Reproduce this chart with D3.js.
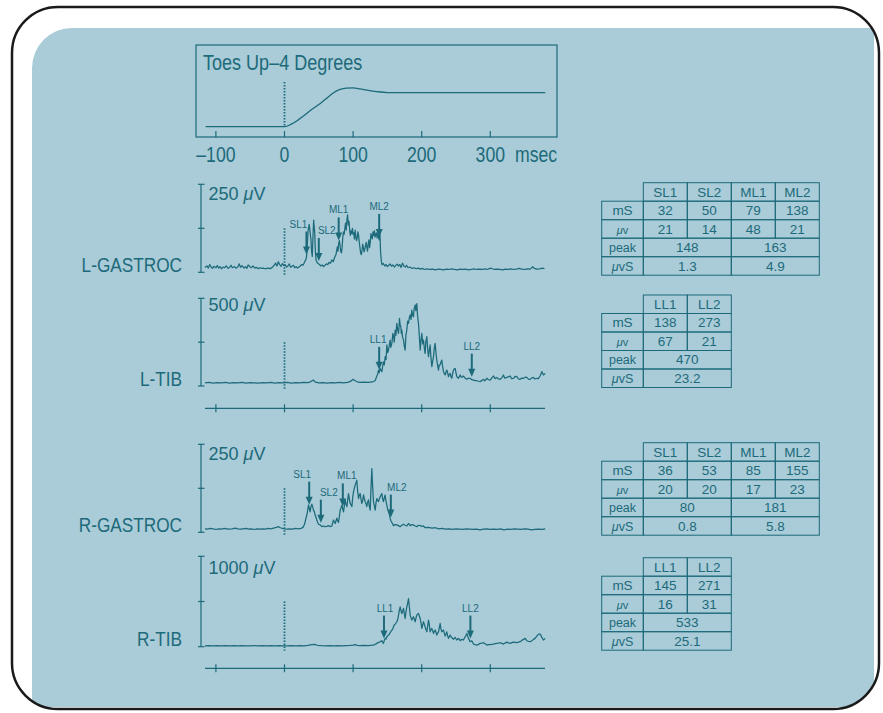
<!DOCTYPE html>
<html>
<head>
<meta charset="utf-8">
<script src="https://cdn.jsdelivr.net/npm/d3@7"></script>
<style>
  body { margin: 0; background: #fff; }
</style>
</head>
<body>
<div id="chart"></div>
<script>
// ---- data ----
var timeTicks = [-100, 0, 100, 200, 300];

// ankle angle, degrees (toes up)
var angleTime = [-115, 0, 10, 20, 30, 40, 50, 60, 70, 80, 90, 100, 110, 120, 135, 150, 200, 300, 380];
var angleDeg  = [0, 0, 0.3, 0.8, 1.4, 2.05, 2.6, 3.25, 3.9, 4.35, 4.55, 4.56, 4.45, 4.3, 4.12, 4.02, 4.0, 4.0, 4.0];

// EMG traces, [msec, microvolts]
var lGastroc = [[-116,14],[-113,18],[-111,12],[-109,22],[-107,15],[-105,11],[-103,17],[-100,13],[-98,19],[-96,12],
  [-94,16],[-92,10],[-89,15],[-87,13],[-85,18],[-82,11],[-80,14],[-78,20],[-76,13],[-73,16],[-71,12],[-68,15],
  [-66,24],[-64,14],[-62,19],[-59,12],[-57,16],[-55,11],[-53,21],[-50,15],[-48,13],[-46,18],[-43,12],[-41,14],
  [-38,10],[-36,13],[-33,11],[-31,12],[-28,10],[-26,11],[-23,12],[-21,10],[-18,14],[-15,20],[-13,26],[-11,18],
  [-9,30],[-7,22],[-5,17],[-3,25],[-1,19],[1,21],[3,15],[5,18],[7,24],[9,14],[11,17],[13,20],[15,13],[17,16],
  [19,12],[21,15],[23,18],[25,22],[27,20],[29,28],[31,36],[32,42],[33,70],[34.5,120],[36,136],[37.5,110],
  [38.5,95],[39.5,60],[40.5,45],[41.5,100],[42.5,148],[44,115],[45,60],[46,35],[47.5,28],[49,25],[51,22],[53,18],
  [55,21],[57,16],[59,20],[61,24],[63,22],[65,28],[67,26],[69,35],[71,30],[73,42],[75,50],[77,72],[78,60],[79,82],
  [80,90],[81,75],[82,60],[83,55],[84,72],[85,100],[86,115],[87,108],[88,125],[89,140],[90,120],[91,150],[92,163],
  [93,135],[94,145],[95,120],[96,105],[97,118],[98,110],[99,125],[100,108],[101,112],[102,95],[103,120],[104,100],
  [105,90],[106,98],[107,115],[108,105],[109,85],[110,70],[111,55],[112,50],[113,62],[114,80],[115,70],[116,58],
  [117,65],[118,75],[119,85],[120,72],[121,60],[122,80],[123,92],[124,70],[125,85],[126,110],[127,100],[128,95],
  [129,115],[130,105],[131,118],[132,100],[133,108],[134,112],[135,98],[136,110],[137,100],[138,92],[139,118],
  [140,60],[141,35],[142,22],[144,25],[146,18],[148,22],[150,16],[152,20],[154,24],[156,17],[158,21],[160,15],
  [162,19],[164,23],[166,18],[168,22],[170,14],[172,26],[174,18],[176,15],[178,20],[180,13],[183,15],[186,11],
  [189,13],[192,10],[195,12],[198,9],[201,11],[204,8],[208,10],[212,8],[216,9],[220,7],[224,9],[228,8],[232,7],
  [236,9],[240,8],[244,10],[248,8],[252,7],[256,9],[260,8],[264,9],[268,7],[272,8],[276,10],[280,8],[284,9],
  [288,8],[292,10],[296,8],[300,12],[303,10],[306,8],[310,9],[314,8],[318,7],[322,9],[326,8],[330,10],[334,8],
  [338,9],[342,11],[346,9],[350,8],[354,10],[358,9],[362,16],[364,11],[368,9],[372,10],[376,12],[379,10]];

var lTib = [[-116,18],[-110,20],[-104,17],[-98,19],[-92,18],[-86,20],[-80,17],[-74,19],[-68,18],[-62,20],[-56,17],
  [-50,19],[-44,18],[-38,17],[-32,19],[-26,18],[-20,20],[-14,17],[-8,19],[-2,18],[4,20],[10,17],[16,19],[22,18],
  [28,20],[34,19],[38,24],[42,34],[45,22],[50,18],[56,19],[62,17],[68,19],[74,18],[80,20],[86,18],[92,21],[96,26],
  [100,38],[103,30],[106,24],[110,21],[116,22],[122,20],[128,23],[132,30],[134,50],[136,70],[137,91],[138,75],
  [139.5,100],[141,88],[142,82],[143,110],[144.3,138],[145.5,120],[146.7,167],[148,150],[149.2,234],[150.5,190],
  [151.6,205],[153,240],[154,262],[155,220],[156.5,243],[158,300],[159,281],[160,250],[161.3,319],[162.5,290],
  [163.7,357],[165,320],[166.2,300],[167,340],[167.6,386],[168.5,350],[169.6,338],[170.3,300],[171,319],[172,280],
  [173.5,262],[174.5,230],[175.9,205],[177,290],[178.3,319],[179.5,370],[180.8,357],[182,390],[183.2,405],
  [184.5,380],[185.6,433],[187,400],[188,395],[189,440],[190.5,462],[191.5,430],[192.9,470],[194,400],[195.3,357],
  [196.5,290],[197.8,205],[199,260],[200.2,300],[201.5,240],[202.6,262],[204,210],[205,186],[206,250],[207.5,281],
  [208.5,220],[209.9,167],[211,200],[212.3,234],[213.5,160],[214.8,110],[216,140],[217.2,167],[218.5,220],
  [219.6,243],[221,180],[222,148],[223.5,110],[224.5,91],[225.5,120],[226.9,120],[228,135],[229.3,148],[230.5,110],
  [231.8,82],[233,70],[234.2,63],[235.5,80],[236.6,91],[238,72],[239,53],[240,65],[241.5,72],[242.5,55],[243.9,44],
  [245,70],[246.4,91],[247.5,98],[248.8,100],[250,75],[251.2,53],[252.5,48],[253.6,44],[255,55],[256.1,63],
  [257.5,52],[258.5,49],[260,55],[260.9,57],[263,46],[265.8,38],[268,44],[270.6,44],[273,36],[275.5,34],[278,31],
  [280.4,30],[283,27],[285.2,25],[288,32],[290.1,38],[292,30],[295,44],[297,36],[299.8,34],[302,45],[304.7,57],
  [307,42],[309.5,49],[312,40],[314.4,38],[317,48],[319.2,63],[321,45],[324.1,49],[326,52],[329,57],[331,42],
  [333.8,44],[336,55],[338.7,53],[341,40],[343.5,38],[346,45],[348.4,44],[351,50],[353.2,49],[356,38],[358.1,38],
  [360,45],[362.9,49],[365,40],[367.8,44],[370,42],[372.7,57],[375.1,82],[377.5,63],[380,72]];

var rGastroc = [[-116,10],[-112,9],[-108,11],[-104,10],[-100,8],[-96,10],[-92,9],[-88,11],[-84,10],[-80,9],[-76,10],
  [-72,12],[-68,10],[-64,9],[-60,10],[-56,11],[-52,9],[-48,10],[-44,8],[-40,10],[-36,9],[-32,10],[-28,9],[-24,11],
  [-20,10],[-16,12],[-12,14],[-9,16],[-6,13],[-3,11],[0,10],[4,9],[8,10],[12,9],[16,11],[20,10],[24,11],[27,14],
  [29,22],[30.1,30],[31.5,42],[32.6,49],[34,65],[35,78],[36,70],[37.4,58],[38.5,72],[39.9,80],[41,72],[42.3,63],
  [43.5,58],[44.7,49],[46,42],[47.1,35],[48.5,28],[49.6,23],[52,21],[54.4,16],[56.9,18],[59,16],[61.7,17],[64,19],
  [66.6,16],[69,18],[71.4,35],[72.5,30],[73.9,25],[75,32],[76.3,40],[77.5,33],[78.7,28],[80,45],[81.2,63],
  [82.5,70],[83.6,77],[85,65],[86,58],[87.2,75],[88.4,92],[89.5,80],[90.9,73],[92,90],[93.3,110],[94.5,95],
  [95.7,82],[97,78],[98.2,73],[99.5,100],[100.6,115],[101.8,125],[103,134],[104.2,140],[105.4,148],[106.5,120],
  [107.9,96],[109,105],[110.3,110],[111.5,95],[112.7,82],[114,90],[115.2,106],[116.5,95],[117.6,87],[119,80],
  [120,73],[121,85],[122.4,92],[123.5,75],[124.9,63],[126,120],[127.3,181],[128.5,130],[129.7,87],[131,75],
  [132.2,63],[133.5,85],[134.6,96],[136,90],[137,87],[138.2,95],[139.5,101],[140.7,106],[141.9,110],[143,95],
  [144.3,87],[145.5,98],[146.7,106],[148,88],[149.2,77],[150.4,65],[151.6,58],[153,50],[154,40],[155.2,32],
  [156.5,28],[158.9,19],[161,22],[163.7,21],[166,19],[168.6,16],[171,20],[173.4,23],[175.8,20],[178.3,18],
  [180.7,25],[183.2,19],[185.6,22],[188,21],[190.5,18],[192.9,16],[195.3,20],[197.8,19],[200.2,17],[202.6,18],
  [205,13],[210,14],[215,12],[220,13],[225,10],[230,11],[235,9],[240,10],[245,8],[250,10],[255,9],[260,8],[265,10],
  [270,9],[275,8],[280,9],[285,7],[290,9],[295,10],[300,8],[305,9],[310,8],[315,10],[320,7],[325,9],[330,8],
  [335,10],[340,9],[345,8],[350,10],[355,9],[360,7],[365,8],[370,9],[375,8],[380,10]];

var rTib = [[-116,10],[-110,12],[-104,9],[-98,11],[-92,10],[-86,12],[-80,9],[-74,11],[-68,10],[-62,12],[-56,10],
  [-50,9],[-44,11],[-38,10],[-32,12],[-26,9],[-20,11],[-14,10],[-8,12],[-2,10],[4,9],[10,11],[16,10],[22,12],
  [28,10],[34,14],[40,22],[44,26],[48,16],[54,11],[60,10],[66,12],[72,10],[78,11],[84,10],[90,12],[96,14],[100,18],
  [103,22],[106,15],[110,12],[116,14],[122,13],[128,18],[132,24],[134.6,37],[137,48],[139.5,55],[141,62],[142,66],
  [143,48],[144.3,37],[145.5,70],[146.7,92],[148,85],[149.2,110],[150.4,120],[151.6,129],[153,140],[154,154],
  [155.2,170],[156.5,184],[157.7,195],[158.9,220],[160,240],[161.3,250],[162.5,262],[163.7,276],[165,300],
  [166.2,349],[167.4,400],[168.6,441],[169.8,400],[171,367],[172.2,390],[173.5,423],[174.7,360],[175.9,312],
  [177,380],[178.3,441],[179.5,480],[180.8,533],[182,440],[183.2,349],[184.4,320],[185.6,294],[186.8,315],
  [188,331],[189.3,300],[190.5,276],[191.7,320],[192.9,349],[194,360],[195.3,367],[196.5,340],[197.8,312],
  [199,260],[200.2,202],[201.4,240],[202.6,276],[203.8,250],[205,220],[206.2,190],[207.5,165],[208.7,230],
  [209.9,294],[211,250],[212.3,165],[213.5,190],[214.8,202],[216,175],[217.2,147],[218.4,170],[219.6,184],
  [220.8,160],[222,129],[223.2,150],[224.5,165],[225.7,210],[226.9,257],[228,200],[229.3,165],[230.5,175],
  [231.8,184],[233,150],[234.2,118],[235.4,140],[236.6,165],[237.8,120],[239,92],[240.2,110],[241.5,129],
  [242.7,110],[243.9,103],[245.1,90],[246.4,81],[247.6,95],[248.8,103],[250,88],[251.2,74],[252.4,85],[253.6,92],
  [255,80],[256.1,66],[257.3,75],[258.5,81],[259.7,78],[260.9,74],[262,90],[263.4,110],[264.6,125],[265.8,147],
  [267,120],[268.2,92],[269.4,75],[270.6,55],[271.8,60],[273,66],[275.5,29],[278,22],[280.4,18],[283,25],
  [285.2,37],[288,40],[290.1,44],[293,30],[295,18],[297,22],[299.8,22],[302,26],[304.7,29],[307,33],[309.5,37],
  [312,40],[314.4,44],[317,36],[319.2,29],[321.5,40],[324.1,51],[326.5,42],[329,37],[331.5,45],[333.8,51],
  [336,48],[338.7,44],[341,50],[343.5,55],[346,70],[348.4,81],[351,92],[353.2,66],[355.5,60],[358.1,55],
  [360.5,65],[362.9,81],[365.3,92],[367.8,118],[370.2,140],[372.7,140],[375.1,103],[377.5,74],[380,92]];

// response table values
var gastrocMarks = ["SL1", "SL2", "ML1", "ML2"];
var tibMarks = ["LL1", "LL2"];
var lGastrocLatency = [32, 50, 79, 138];
var lGastrocAmp = [21, 14, 48, 21];
var lGastrocPeak = [148, 163];
var lGastrocArea = [1.3, 4.9];
var lTibLatency = [138, 273];
var lTibAmp = [67, 21];
var lTibPeak = [470];
var lTibArea = [23.2];
var rGastrocLatency = [36, 53, 85, 155];
var rGastrocAmp = [20, 20, 17, 23];
var rGastrocPeak = [80, 181];
var rGastrocArea = [0.8, 5.8];
var rTibLatency = [145, 271];
var rTibAmp = [16, 31];
var rTibPeak = [533];
var rTibArea = [25.1];

// ---- drawing ----
var W = 883, H = 713;
var ink = "#1d6a7a";
var plain = "'Liberation Sans',Arial,Helvetica,sans-serif";
var squeeze = 0.82;   // condensed lettering of the slide

var svg = d3.select("#chart").append("svg")
  .attr("width", W)
  .attr("height", H);

// slide background inside the rounded frame
svg.append("defs").append("clipPath").attr("id", "frame")
  .append("rect")
  .attr("x", 12).attr("y", 7).attr("width", 867).attr("height", 702).attr("rx", 46);

svg.append("path")
  .attr("clip-path", "url(#frame)")
  .attr("d", "M32,68 A40,40 0 0 1 72,28 L874,28 L874,707 L32,707 Z")
  .attr("fill", "#a9ccd8");

svg.append("rect")
  .attr("x", 12).attr("y", 7).attr("width", 867).attr("height", 702).attr("rx", 46)
  .attr("fill", "none")
  .attr("stroke", "#1a1a1a")
  .attr("stroke-width", 2.5);

// condensed text helper
function narrowText(g, tx, ty, size, anchor, str) {
  return g.append("text")
    .attr("transform", `translate(${tx},${ty}) scale(${squeeze},1)`)
    .attr("text-anchor", anchor)
    .attr("font-family", plain).attr("font-size", size).attr("fill", ink)
    .text(str);
}

// shared time scale
var x = d3.scaleLinear().domain([-100, 300]).range([215.9, 490.3]);

// ---- top panel: ankle rotation ----
var anglePanel = svg.append("g");
anglePanel.append("rect")
  .attr("x", 196).attr("y", 45).attr("width", 361).attr("height", 92)
  .attr("fill", "none").attr("stroke", ink).attr("stroke-width", 1.2);

narrowText(anglePanel, 203, 70, 22, "start", "Toes Up\u20134 Degrees");

var ya = d3.scaleLinear().domain([0, 4]).range([126.7, 92.7]);
var angleLine = d3.line()
  .x((d, i) => x(angleTime[i]))
  .y(d => ya(d))
  .curve(d3.curveMonotoneX);

anglePanel.append("path")
  .datum(angleDeg)
  .attr("d", angleLine)
  .attr("fill", "none").attr("stroke", ink).attr("stroke-width", 1.3);

anglePanel.append("line")
  .attr("x1", x(0)).attr("x2", x(0)).attr("y1", 82).attr("y2", 127)
  .attr("stroke", ink).attr("stroke-width", 1.8).attr("stroke-dasharray", "1.5,1.5");

anglePanel.selectAll(".tick")
  .data(timeTicks)
  .enter().append("line")
  .attr("x1", d => x(d)).attr("x2", d => x(d))
  .attr("y1", 131).attr("y2", 137.5)
  .attr("stroke", ink).attr("stroke-width", 1.2);

timeTicks.forEach(d => {
  narrowText(anglePanel, x(d), 161.5, 21.5, "middle", d < 0 ? "\u2013" + Math.abs(d) : String(d));
});
narrowText(anglePanel, 515, 161.5, 21.5, "start", "msec");

// ---- EMG panels ----
var panels = [
  { name: "L-GASTROC", trace: lGastroc, full: 250, y0: 272.3, yTop: 184.3, unitY: 200.3, tableY: 182.7,
    marks: gastrocMarks, latency: lGastrocLatency, amp: lGastrocAmp, peak: lGastrocPeak, area: lGastrocArea,
    labelDx: [-8, 8, 0, 0], axisY: null },
  { name: "L-TIB", trace: lTib, full: 500, y0: 386, yTop: 298.3, unitY: 311, tableY: 295,
    marks: tibMarks, latency: lTibLatency, amp: lTibAmp, peak: lTibPeak, area: lTibArea,
    labelDx: [-1, 0], axisY: 408.3 },
  { name: "R-GASTROC", trace: rGastroc, full: 250, y0: 532.3, yTop: 444.3, unitY: 460, tableY: 442.7,
    marks: gastrocMarks, latency: rGastrocLatency, amp: rGastrocAmp, peak: rGastrocPeak, area: rGastrocArea,
    labelDx: [-7, 8, 4, 6], axisY: null },
  { name: "R-TIB", trace: rTib, full: 1000, y0: 646.7, yTop: 556.3, unitY: 574, tableY: 557.7,
    marks: tibMarks, latency: rTibLatency, amp: rTibAmp, peak: rTibPeak, area: rTibArea,
    labelDx: [1, 0], axisY: 668.3 }
];

// value of a trace at time t (linear between samples)
function valueAt(trace, t) {
  var i = d3.bisector(d => d[0]).left(trace, t);
  if (i <= 0) return trace[0][1];
  if (i >= trace.length) return trace[trace.length - 1][1];
  var a = trace[i - 1], b = trace[i];
  return a[1] + (b[1] - a[1]) * (t - a[0]) / (b[0] - a[0]);
}

function drawTable(g, p) {
  var x0 = 601.7, lw = 41.6, cw = 44, rh = 18.5, y0 = p.tableY;
  var n = p.marks.length;

  function cell(cx, cy, w, label, opts) {
    g.append("rect")
      .attr("x", cx).attr("y", cy).attr("width", w).attr("height", rh)
      .attr("fill", "none").attr("stroke", ink).attr("stroke-width", 1);
    var t = g.append("text")
      .attr("x", cx + w / 2).attr("y", cy + rh / 2 + 4.6)
      .attr("text-anchor", "middle")
      .attr("font-family", plain).attr("font-size", (opts && opts.size) || 13.5)
      .attr("fill", ink);
    if (opts && opts.mu) {
      t.append("tspan").attr("font-style", "italic").text("\u03bc");
      t.append("tspan").text(label);
    } else {
      t.text(label);
    }
  }

  p.marks.forEach((m, j) => cell(x0 + lw + j * cw, y0, cw, m));

  var rows = [
    { label: "mS", vals: p.latency, fmt: d => d },
    { label: "v", mu: true, size: 11, vals: p.amp, fmt: d => d },
    { label: "peak", size: 12.5, vals: p.peak, fmt: d => d },
    { label: "vS", mu: true, size: 12.5, vals: p.area, fmt: d => d.toFixed(1) }
  ];
  rows.forEach((r, i) => {
    var cy = y0 + (i + 1) * rh;
    cell(x0, cy, lw, r.label, { mu: r.mu, size: r.size });
    var span = n / r.vals.length;
    r.vals.forEach((v, k) => cell(x0 + lw + k * span * cw, cy, span * cw, r.fmt(v)));
  });
}

panels.forEach(p => {
  var g = svg.append("g");
  var y = d3.scaleLinear().domain([0, p.full]).range([p.y0, p.yTop]);

  // muscle name
  narrowText(g, 182, p.y0 - 0.5, 21, "end", p.name);

  // amplitude bracket
  g.append("line")
    .attr("x1", 201).attr("x2", 201).attr("y1", y(p.full)).attr("y2", y(0))
    .attr("stroke", ink).attr("stroke-width", 1.2);
  g.selectAll(".yt")
    .data([0, p.full / 2, p.full])
    .enter().append("line")
    .attr("x1", 198).attr("x2", 204.5)
    .attr("y1", d => y(d)).attr("y2", d => y(d))
    .attr("stroke", ink).attr("stroke-width", 1.2);

  var unit = g.append("text")
    .attr("x", 208.5).attr("y", p.unitY)
    .attr("font-family", plain).attr("font-size", 18).attr("fill", ink);
  unit.append("tspan").text(p.full + " ");
  unit.append("tspan").attr("font-style", "italic").text("\u03bc");
  unit.append("tspan").text("V");

  // stimulus onset
  g.append("line")
    .attr("x1", x(0)).attr("x2", x(0)).attr("y1", y(p.full / 2)).attr("y2", p.y0 + 4)
    .attr("stroke", ink).attr("stroke-width", 1.8).attr("stroke-dasharray", "1.5,1.5");

  // EMG trace
  g.append("path")
    .datum(p.trace)
    .attr("d", d3.line().x(d => x(d[0])).y(d => y(d[1])))
    .attr("fill", "none").attr("stroke", ink).attr("stroke-width", 1.25)
    .attr("stroke-linejoin", "round");

  // latency arrows
  p.marks.forEach((m, i) => {
    var t = p.latency[i];
    var ax = x(t);
    var tip = y(valueAt(p.trace, t)) - 3;
    g.append("line")
      .attr("x1", ax).attr("x2", ax).attr("y1", tip - 23).attr("y2", tip - 6)
      .attr("stroke", ink).attr("stroke-width", 2);
    g.append("path")
      .attr("d", `M${ax - 3.5},${tip - 8}L${ax + 3.5},${tip - 8}L${ax},${tip}Z`)
      .attr("fill", ink);
    g.append("text")
      .attr("x", ax + p.labelDx[i]).attr("y", tip - 27)
      .attr("text-anchor", "middle")
      .attr("font-family", plain).attr("font-size", 10).attr("fill", ink)
      .text(m);
  });

  // time axis under the tibialis traces
  if (p.axisY) {
    g.append("line")
      .attr("x1", 205).attr("x2", 545).attr("y1", p.axisY).attr("y2", p.axisY)
      .attr("stroke", ink).attr("stroke-width", 1.2);
    g.selectAll(".xt")
      .data(timeTicks)
      .enter().append("line")
      .attr("x1", d => x(d)).attr("x2", d => x(d))
      .attr("y1", p.axisY - 4).attr("y2", p.axisY + 4)
      .attr("stroke", ink).attr("stroke-width", 1.2);
  }

  drawTable(g, p);
});
</script>
</body>
</html>
